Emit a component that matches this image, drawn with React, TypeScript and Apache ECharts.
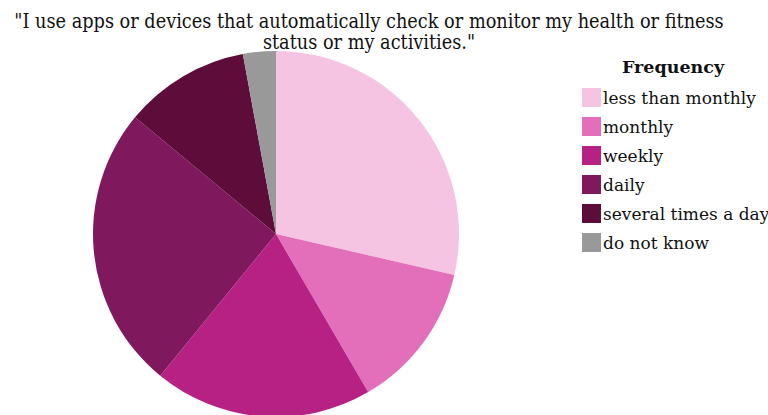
import React, { useEffect, useRef } from "react";
import * as echarts from "echarts";

const categories = ["less than monthly", "monthly", "weekly", "daily", "several times a day", "do not know"];
const values = [28.6, 13.0, 19.3, 25.1, 11.1, 2.9];
const colors = ["#f5c4e3", "#e36fbb", "#b82184", "#80185e", "#5e0c3a", "#999999"];
const titleText = '"I use apps or devices that automatically check or monitor my health or fitness\nstatus or my activities."';
const legendTitle = "Frequency";

export default function App() {
  const ref = useRef<HTMLDivElement>(null);
  useEffect(() => {
    const chart = echarts.init(ref.current!, null, { renderer: "svg" });
    chart.setOption({
      animation: false,
      backgroundColor: "#ffffff",
      title: {
        text: titleText,
        left: 364,
        textAlign: "center",
        top: 6,
        textStyle: {
          fontFamily: "DejaVu Serif Condensed",
          fontWeight: "normal",
          fontSize: 19.7,
          lineHeight: 21,
          color: "#111",
        },
      },
      graphic: [
        {
          type: "text",
          left: 622,
          top: 58,
          style: {
            text: legendTitle,
            font: "bold 17.5px 'DejaVu Serif'",
            fill: "#111",
          },
        },
      ],
      legend: {
        orient: "vertical",
        left: 582,
        top: 88,
        padding: 0,
        itemWidth: 19,
        itemHeight: 19,
        itemGap: 10,
        icon: "rect",
        textStyle: {
          fontFamily: "DejaVu Serif",
          fontSize: 17,
          color: "#111",
          padding: [0, 0, 0, -3],
        },
        data: categories,
      },
      series: [
        {
          type: "pie",
          center: [276, 234],
          radius: 183,
          startAngle: 90,
          clockwise: true,
          label: { show: false },
          labelLine: { show: false },
          emphasis: { disabled: true },
          itemStyle: { borderWidth: 0 },
          data: categories.map((c, i) => ({ name: c, value: values[i], itemStyle: { color: colors[i] } })),
        },
      ],
    });
    return () => chart.dispose();
  }, []);
  return <div ref={ref} style={{ width: 768, height: 415, position: "absolute", left: 0, top: 0 }} />;
}
